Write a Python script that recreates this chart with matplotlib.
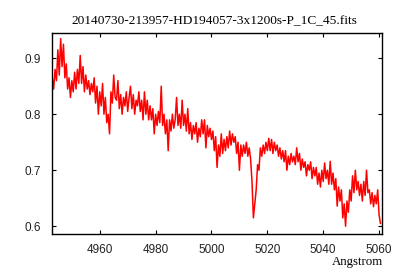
import numpy as np
import matplotlib
matplotlib.use("Agg")
import matplotlib.pyplot as plt

title = "20140730-213957-HD194057-3x1200s-P_1C_45.fits"
xlabel = "Angstrom"
wl_first, wl_last = 4943.0, 5060.5
flux = [
    0.865, 0.845, 0.88, 0.86, 0.915, 0.87, 0.935, 0.885, 0.925, 0.865,
    0.89, 0.845, 0.865, 0.83, 0.86, 0.84, 0.875, 0.845, 0.88, 0.855,
    0.905, 0.855, 0.885, 0.84, 0.87, 0.845, 0.86, 0.835, 0.855, 0.84,
    0.865, 0.82, 0.85, 0.80, 0.84, 0.815, 0.855, 0.80, 0.83, 0.785,
    0.80, 0.765, 0.84, 0.82, 0.87, 0.83, 0.825, 0.86, 0.81, 0.835,
    0.80, 0.83, 0.815, 0.84, 0.805, 0.83, 0.85, 0.81, 0.835, 0.80,
    0.825, 0.815, 0.84, 0.805, 0.825, 0.79, 0.84, 0.80, 0.825, 0.79,
    0.815, 0.79, 0.81, 0.765, 0.80, 0.78, 0.805, 0.785, 0.85, 0.78,
    0.80, 0.765, 0.79, 0.735, 0.79, 0.77, 0.80, 0.775, 0.79, 0.83,
    0.78, 0.80, 0.775, 0.825, 0.78, 0.80, 0.77, 0.81, 0.765, 0.785,
    0.755, 0.78, 0.765, 0.785, 0.75, 0.775, 0.76, 0.79, 0.765, 0.79,
    0.74, 0.78, 0.76, 0.775, 0.755, 0.77, 0.735, 0.76, 0.705, 0.745,
    0.725, 0.765, 0.73, 0.755, 0.735, 0.76, 0.74, 0.77, 0.745, 0.765,
    0.75, 0.76, 0.73, 0.75, 0.70, 0.745, 0.725, 0.745, 0.73, 0.75,
    0.725, 0.74, 0.72, 0.68, 0.615, 0.64, 0.665, 0.71, 0.70, 0.74,
    0.725, 0.745, 0.73, 0.75, 0.735, 0.757, 0.735, 0.755, 0.73, 0.75,
    0.735, 0.745, 0.725, 0.74, 0.72, 0.735, 0.715, 0.735, 0.70, 0.725,
    0.71, 0.73, 0.715, 0.725, 0.71, 0.74, 0.715, 0.73, 0.70, 0.72,
    0.705, 0.715, 0.69, 0.71, 0.70, 0.715, 0.685, 0.705, 0.69, 0.705,
    0.675, 0.695, 0.67, 0.70, 0.68, 0.713, 0.685, 0.70, 0.675, 0.716,
    0.675, 0.695, 0.665, 0.685, 0.636, 0.67, 0.645, 0.665, 0.615, 0.64,
    0.60, 0.645, 0.625, 0.665, 0.645, 0.69, 0.66, 0.70, 0.665, 0.68,
    0.655, 0.675, 0.645, 0.68, 0.655, 0.70, 0.66, 0.665, 0.64, 0.66,
    0.635, 0.655, 0.64, 0.665, 0.62, 0.605,
]
xticks = [4960, 4980, 5000, 5020, 5040, 5060]
yticks = [0.6, 0.7, 0.8, 0.9]
ytick_labels = ["0.6", "0.7", "0.8", "0.9"]

wl = np.linspace(wl_first, wl_last, len(flux))

fig = plt.figure(figsize=(4, 2.8), dpi=100)
ax = fig.add_axes([0.13, 0.164, 0.824, 0.718])
ax.plot(wl, flux, color="#ff0000", lw=1.1)
ax.set_xlim(4942.9, 5060.9)
ax.set_ylim(0.586, 0.945)
ax.set_xticks(xticks)
ax.set_yticks(yticks)
ax.set_yticklabels(ytick_labels)
ax.tick_params(direction="in", top=True, right=True, length=3, width=0.8,
               labelsize=8.5, colors="black")
ax.tick_params(axis="x", pad=7)
ax.tick_params(axis="y", pad=8)
for lab in ax.get_xticklabels() + ax.get_yticklabels():
    lab.set_family("Liberation Sans")
    lab.set_color("#222222")
for s in ax.spines.values():
    s.set_linewidth(1.0)
fig.text(0.535, 0.925, title, ha="center", va="center",
         family="Liberation Serif", fontsize=9.6)
fig.text(0.957, 0.064, xlabel, ha="right", va="center",
         family="Liberation Serif", fontsize=9.3)
fig.savefig("out.png", dpi=100)
